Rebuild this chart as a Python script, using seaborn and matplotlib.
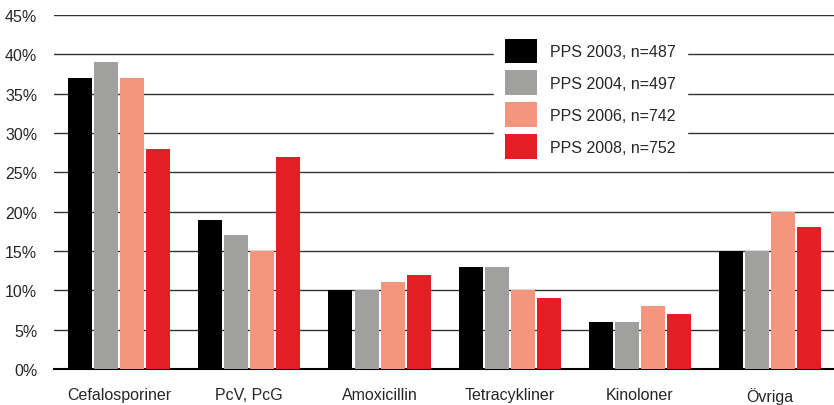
import matplotlib
matplotlib.use('Agg')
import matplotlib.pyplot as plt
import seaborn as sns
import pandas as pd
from matplotlib.ticker import FuncFormatter, MultipleLocator, FixedLocator

categories = ['Cefalosporiner', 'PcV, PcG', 'Amoxicillin', 'Tetracykliner', 'Kinoloner', 'Övriga']
series = ['PPS 2003, n=487', 'PPS 2004, n=497', 'PPS 2006, n=742', 'PPS 2008, n=752']
pps_2003 = [37, 19, 10, 13, 6, 15]
pps_2004 = [39, 17, 10, 13, 6, 15]
pps_2006 = [37, 15, 11, 10, 8, 20]
pps_2008 = [28, 27, 12, 9, 7, 18]
colors = ['#000000', '#a0a19f', '#f4967d', '#e31e24']

rows = []
for name, vals in zip(series, [pps_2003, pps_2004, pps_2006, pps_2008]):
    for c, v in zip(categories, vals):
        rows.append({'kategori': c, 'serie': name, 'andel': v})
df = pd.DataFrame(rows)

sns.set_style('white')
plt.rcParams['font.family'] = ['Liberation Sans', 'DejaVu Sans']

fig = plt.figure(figsize=(8.34, 4.06), dpi=100)
ax = fig.add_axes([54 / 834, 36 / 406, 1 - 54 / 834, 354 / 406])

sns.barplot(data=df, x='kategori', y='andel', hue='serie', palette=colors,
            width=0.8, gap=0.08, ax=ax, saturation=1, linewidth=0, zorder=3)

ax.set_ylim(0, 45)
ax.set_xlim(-0.5, 5.49)
ax.yaxis.set_major_locator(MultipleLocator(5))
ax.yaxis.set_major_formatter(FuncFormatter(lambda v, p: f'{int(v)}%'))
ax.grid(axis='y', color='#333333', linewidth=1, zorder=0)
ax.set_axisbelow(True)

for s in ['top', 'right', 'left']:
    ax.spines[s].set_visible(False)
ax.spines['bottom'].set_linewidth(1.5)
ax.spines['bottom'].set_color('black')

ax.set_xlabel(None)
ax.set_ylabel(None)
ax.tick_params(axis='y', length=0, pad=12, labelsize=11.5)
ax.tick_params(axis='x', which='major', length=0, pad=13, labelsize=11.5)
ax.xaxis.set_minor_locator(FixedLocator([-0.5, 0.5, 1.5, 2.5, 3.5, 4.5]))
ax.tick_params(axis='x', which='minor', direction='in', length=5, width=1, color='black')

leg = ax.legend(loc='upper left', bbox_to_anchor=(0.564, 0.965), frameon=True,
                fancybox=False, edgecolor='white', framealpha=1,
                fontsize=11.5, handlelength=2.0, handleheight=2.0,
                handletextpad=0.8, labelspacing=0.45, borderpad=0.7,
                borderaxespad=0)
leg.set_zorder(5)

fig.savefig('out.png', dpi=100)
